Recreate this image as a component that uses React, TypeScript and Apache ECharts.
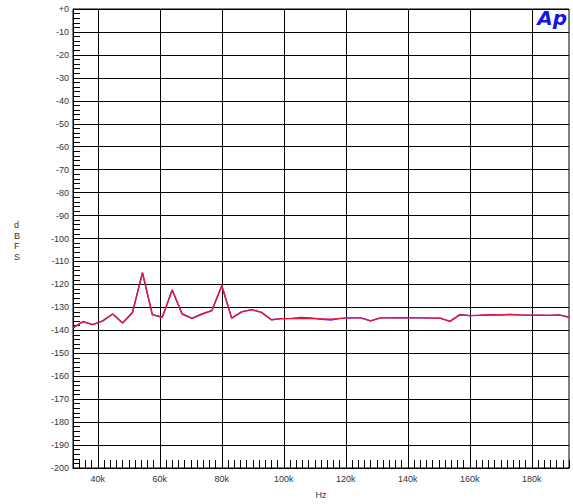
import React, { useEffect, useRef } from "react";
import * as echarts from "echarts";

const FREQ_K = [
  32, 35.2, 38.4, 41.6, 44.8, 48, 51.2, 54.4, 57.6, 60.8, 64, 67.2, 70.4, 73.6, 76.8,
  80, 83.2, 86.4, 89.6, 92.8, 96, 99.2, 102.4, 105.6, 108.8, 112, 115.2, 118.4, 121.6,
  124.8, 128, 131.2, 134.4, 137.6, 140.8, 144, 147.2, 150.4, 153.6, 156.8, 160, 163.2,
  166.4, 169.6, 172.8, 176, 179.2, 182.4, 185.6, 188.8, 192,
];

const RIGHT_DBFS = [
  -139, -136.2, -137.5, -135.9, -132.9, -136.8, -132.2, -114.9, -133.2, -134.3, -122.4,
  -132.9, -134.8, -132.9, -131.4, -120.6, -134.7, -132, -131, -132.2, -135.4, -134.9,
  -134.9, -134.8, -134.9, -135, -135.2, -134.8, -134.6, -134.6, -135.9, -134.6, -134.6,
  -134.6, -134.6, -134.6, -134.7, -134.7, -136.1, -133.2, -133.6, -133.4, -133.2, -133.3,
  -133.1, -133.3, -133.4, -133.4, -133.5, -133.3, -134.3,
];

const LEFT_DBFS = [
  -139, -136.2, -137.5, -135.9, -132.9, -136.8, -132.2, -114.9, -133.2, -134.3, -122.4,
  -132.9, -134.8, -132.9, -131.4, -120.6, -134.7, -132, -131, -132.2, -135.4, -134.9,
  -134.8, -134.4, -134.6, -135.2, -135.5, -134.8, -134.6, -134.6, -135.9, -134.6, -134.6,
  -134.5, -134.6, -134.6, -134.7, -134.7, -136.1, -133.2, -133.6, -133.5, -133.2, -133.4,
  -133.1, -133.3, -133.5, -133.4, -133.5, -133.3, -134.3,
];

const X_MAJOR_K = [40, 60, 80, 100, 120, 140, 160, 180];

const FONT = "Liberation Sans, Arial, sans-serif";

export default function App() {
  const ref = useRef<HTMLDivElement>(null);

  useEffect(() => {
    if (!ref.current) return;
    const chart = echarts.init(ref.current, null, { renderer: "svg" });
    const toPairs = (vals: number[]) => FREQ_K.map((f, i) => [f, vals[i]]);
    chart.setOption({
      animation: false,
      backgroundColor: "#ffffff",
      grid: {
        left: 73,
        top: 9,
        width: 496,
        height: 464,
        show: true,
        borderColor: "#000",
        borderWidth: 1,
        backgroundColor: "transparent",
      },
      xAxis: {
        type: "value",
        min: 32,
        max: 192,
        interval: 2,
        name: "Hz",
        nameLocation: "middle",
        nameGap: 22,
        nameTextStyle: { fontFamily: FONT, fontSize: 9, color: "#333" },
        axisLine: { show: true, onZero: false, lineStyle: { color: "#000", width: 1 } },
        axisTick: { show: true, inside: true, length: 8, lineStyle: { color: "#000", width: 1 } },
        splitLine: { show: false },
        axisLabel: {
          fontFamily: FONT,
          fontSize: 9,
          color: "#333",
          margin: 6,
          formatter: (v: number) =>
            X_MAJOR_K.some((m) => Math.abs(m - v) < 1e-6) ? `${Math.round(v)}k` : "",
        },
      },
      yAxis: {
        type: "value",
        min: -200,
        max: 0,
        interval: 10,
        axisLine: { show: true, onZero: false, lineStyle: { color: "#000", width: 1 } },
        axisTick: { show: true, inside: true, length: 7, lineStyle: { color: "#000" } },
        minorTick: { show: true, splitNumber: 5, length: 7, lineStyle: { color: "#000", width: 1 } },
        splitLine: { show: true, lineStyle: { color: "#000", width: 1 } },
        axisLabel: {
          fontFamily: FONT,
          fontSize: 9,
          color: "#333",
          margin: 4,
          formatter: (v: number) => (v === 0 ? "+0" : `${v}`),
        },
      },
      graphic: [
        {
          type: "text",
          left: 14,
          top: 220,
          style: {
            text: "d\nB\nF\nS",
            fontFamily: FONT,
            fontSize: 9,
            lineHeight: 10.5,
            fill: "#333",
            align: "center",
          },
        },
        {
          type: "text",
          right: 6,
          top: 8,
          z: 10,
          style: {
            text: "Ap",
            fontFamily: "DejaVu Sans, sans-serif",
            fontSize: 20,
            fontWeight: "bold",
            fontStyle: "italic",
            fill: "#1414f0",
          },
        },
      ],
      series: [
        {
          name: "Left",
          type: "line",
          data: toPairs(LEFT_DBFS),
          showSymbol: false,
          symbol: "none",
          z: 3,
          lineStyle: { color: "#3a3aff", width: 1.4 },
          markLine: {
            silent: true,
            z: 1,
            symbol: ["none", "none"],
            label: { show: false },
            lineStyle: { color: "#000", type: "solid", width: 1 },
            data: X_MAJOR_K.map((k) => ({ xAxis: k })),
          },
        },
        {
          name: "Right",
          type: "line",
          data: toPairs(RIGHT_DBFS),
          showSymbol: false,
          symbol: "none",
          z: 4,
          lineStyle: { color: "#ee0f3a", width: 1.4 },
        },
      ],
    });
    return () => chart.dispose();
  }, []);

  return (
    <div
      ref={ref}
      style={{ position: "fixed", left: 0, top: 0, width: 573, height: 504, background: "#fff" }}
    />
  );
}
